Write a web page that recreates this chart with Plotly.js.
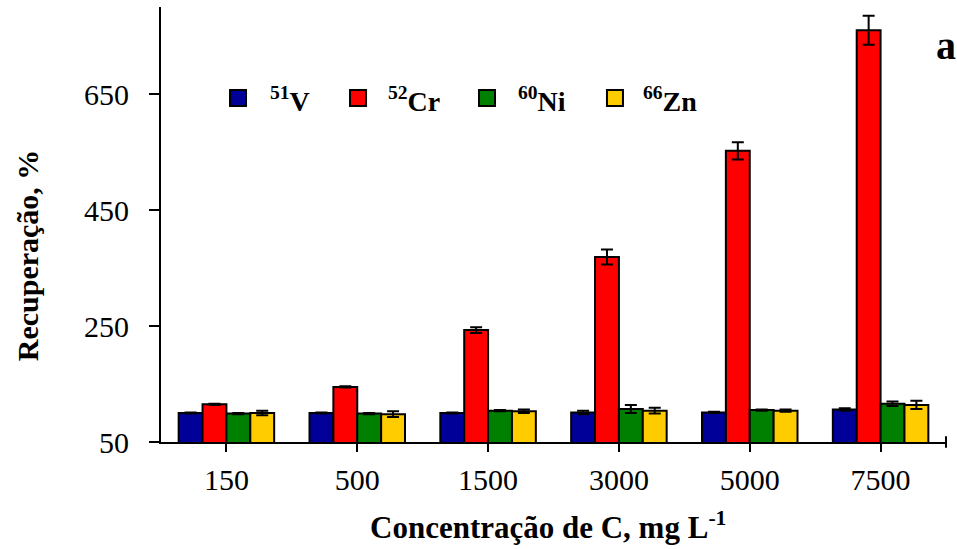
<!DOCTYPE html>
<html>
<head>
<meta charset="utf-8">
<script src="https://cdn.plot.ly/plotly-3.0.1.min.js"></script>
<style>html,body{margin:0;padding:0;background:#fff;}#chart{width:957px;height:549px;}</style>
</head>
<body>
<div id="chart"></div>
<script>
const categories = ["150", "500", "1500", "3000", "5000", "7500"];
const seriesNames = ["<sup>51</sup>V", "<sup>52</sup>Cr", "<sup>60</sup>Ni", "<sup>66</sup>Zn"];
const seriesColors = ["#000099", "#ff0000", "#008000", "#ffcc00"];
const vValues  = [100, 100, 100, 101, 101, 106];
const vErrors  = [1, 1, 1, 3, 1, 2];
const crValues = [115, 145, 243, 369, 552, 760];
const crErrors = [1, 1, 5, 13, 15, 25];
const niValues = [99, 99, 104, 107, 105, 116];
const niErrors = [1, 1, 1, 7, 1, 4];
const znValues = [100, 98, 103, 104, 104, 114];
const znErrors = [4, 5, 3, 5, 2, 7];
const yTicks = [50, 250, 450, 650];

const allValues = [vValues, crValues, niValues, znValues];
const allErrors = [vErrors, crErrors, niErrors, znErrors];

const traces = allValues.map((vals, i) => ({
  type: "bar",
  name: seriesNames[i],
  x: categories,
  y: vals,
  showlegend: false,
  marker: {color: seriesColors[i], line: {color: "#000", width: 2}},
  error_y: {type: "data", array: allErrors[i], visible: true, color: "#000", thickness: 2, width: 6}
}));

const serif = "Liberation Serif, Times New Roman, serif";

// legend layout (paper coordinates)
const legendSymbolX = [0.0981, 0.2510, 0.4153, 0.5783];
const legendTextX = [0.1360, 0.2865, 0.4520, 0.6110];
const legendY = 0.7908;

const legendShapes = seriesColors.map((c, i) => ({
  type: "rect", xref: "paper", yref: "paper",
  xsizemode: "pixel", ysizemode: "pixel",
  xanchor: legendSymbolX[i], yanchor: legendY,
  x0: -8, x1: 8, y0: -8, y1: 8,
  fillcolor: c, line: {color: "#000", width: 2}
}));
const legendTexts = seriesNames.map((n, i) => ({
  text: "<b>" + n + "</b>", xref: "paper", yref: "paper",
  x: legendTextX[i], y: legendY - 0.003, xanchor: "left", yanchor: "middle",
  showarrow: false, font: {family: serif, size: 28, color: "#000"}
}));

const layout = {
  width: 957, height: 549,
  margin: {l: 161, r: 11, t: 7, b: 107},
  paper_bgcolor: "#fff", plot_bgcolor: "#fff",
  font: {family: serif, color: "#000", size: 30},
  barmode: "group", bargap: 0.27, bargroupgap: 0,
  showlegend: false,
  xaxis: {type: "category", showline: true, linecolor: "#000", linewidth: 2,
          ticks: "outside", ticklen: 8, tickwidth: 2, tickcolor: "#000",
          showgrid: false, zeroline: false, tickfont: {family: serif, size: 30},
          ticklabelstandoff: 2},
  yaxis: {range: [50, 800], showline: true, linecolor: "#000", linewidth: 2,
          tickvals: yTicks, ticktext: yTicks.map(String),
          ticks: "outside", ticklen: 10, tickwidth: 2, tickcolor: "#000",
          showgrid: false, zeroline: false, tickfont: {family: serif, size: 30},
          ticklabelstandoff: 14},
  annotations: [
    {text: "<b>a</b>", xref: "paper", yref: "paper", x: 1.0, y: 0.912,
     xanchor: "center", yanchor: "middle", showarrow: false,
     font: {size: 40, family: serif}},
    {text: "<b>Recuperação, %</b>", xref: "paper", yref: "paper", x: -0.169, y: 0.43,
     xanchor: "center", yanchor: "middle", showarrow: false, textangle: -90,
     font: {size: 30, family: serif}},
    {text: "<b>Concentração de C, mg L<sup>-1</sup></b>", xref: "paper", yref: "paper", x: 0.493, y: -0.191,
     xanchor: "center", yanchor: "middle", showarrow: false,
     font: {size: 31, family: serif}}
  ].concat(legendTexts),
  shapes: [{type: "line", xref: "paper", yref: "paper", x0: 1, x1: 1, y0: -0.013, y1: 0.013,
            line: {color: "#000", width: 2}}].concat(legendShapes)
};

Plotly.newPlot("chart", traces, layout, {displayModeBar: false, staticPlot: true});
</script>
</body>
</html>
